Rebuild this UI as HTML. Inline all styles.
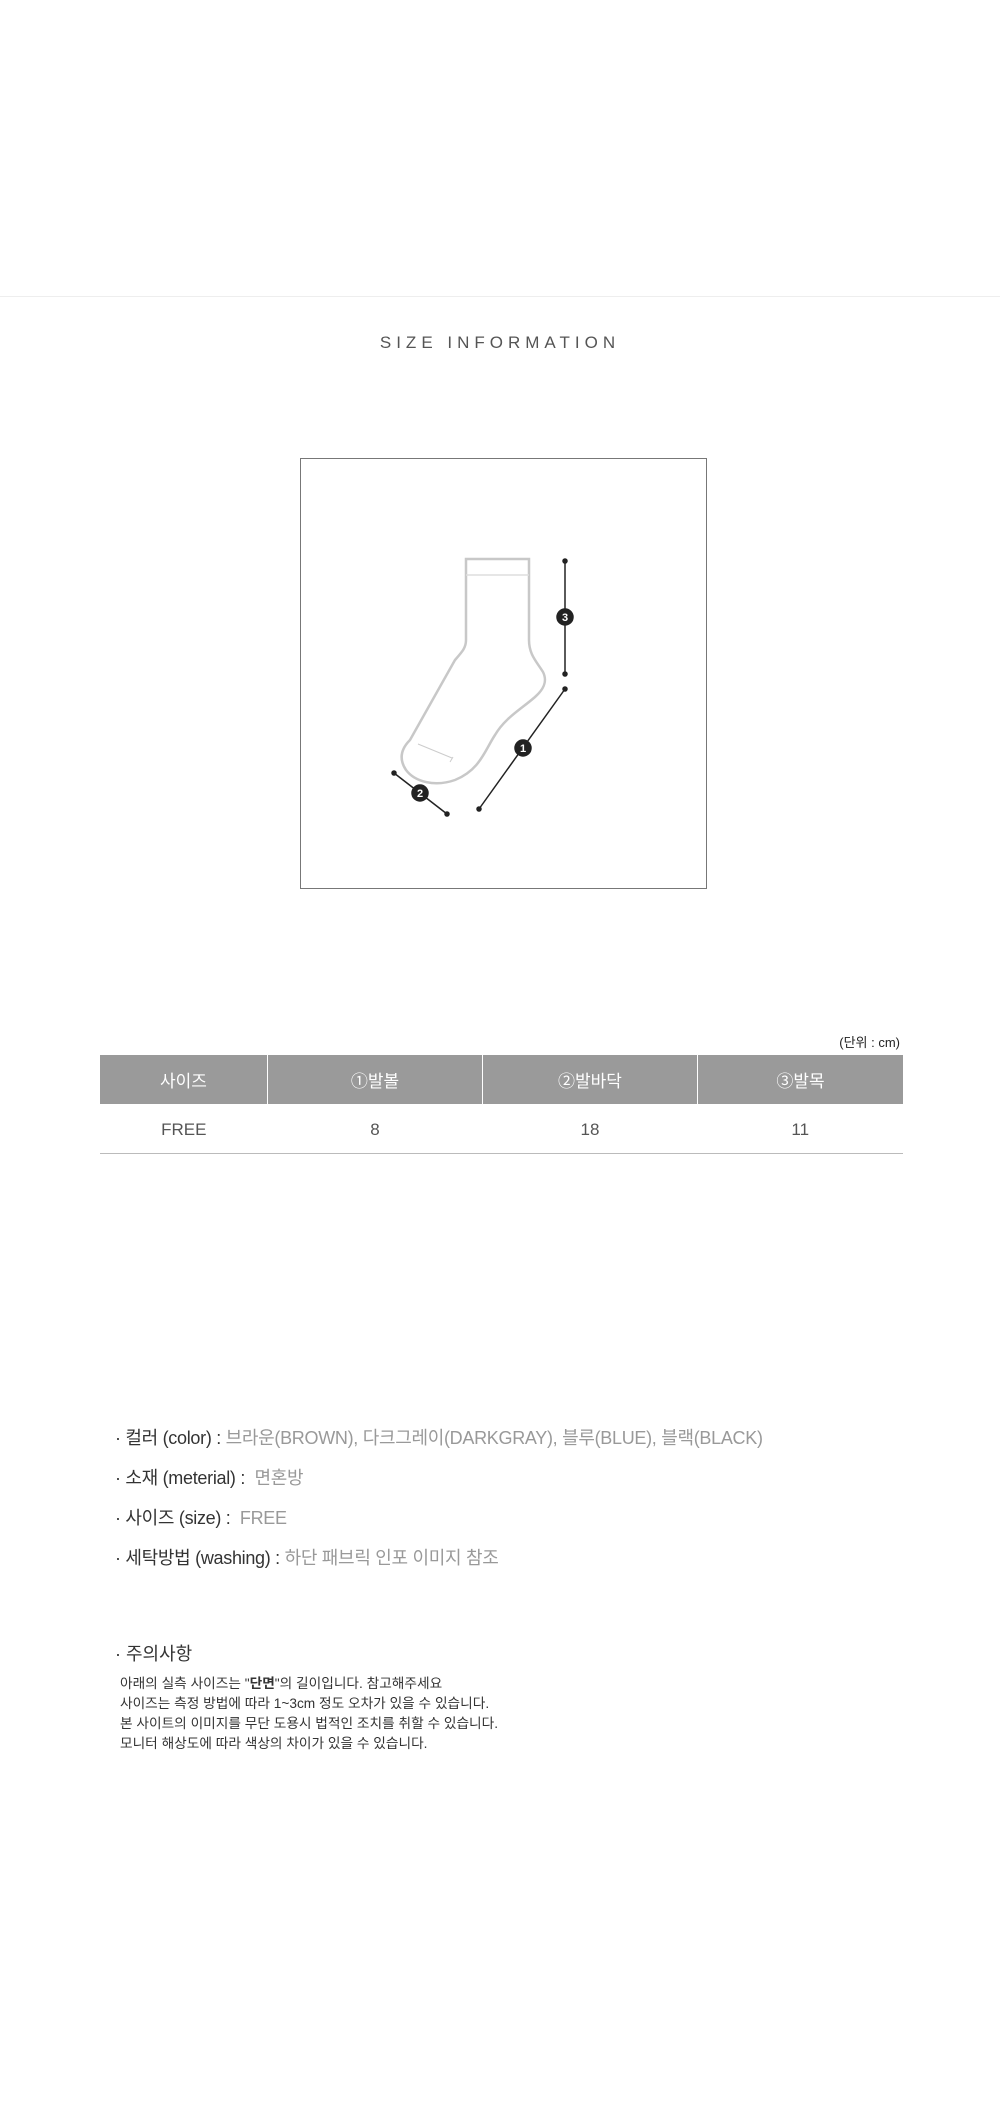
<!DOCTYPE html>
<html><head><meta charset="utf-8"><style>
body{margin:0;width:1000px;height:2105px;background:#fff;position:relative;font-family:"Liberation Sans","Noto Sans CJK KR",sans-serif;overflow:hidden}
.a{position:absolute;white-space:nowrap}
table{border-collapse:collapse}
</style></head><body>
<div class="a" style="left:0;top:296px;width:1000px;height:1px;background:#eee"></div>
<div class="a" style="left:0;top:333px;width:1000px;text-align:center;font-size:17px;letter-spacing:5px;color:#555">SIZE INFORMATION</div>
<svg class="a" style="left:0;top:0" width="1000" height="900">
<rect x="300.5" y="458.5" width="406" height="430" fill="none" stroke="#777" stroke-width="1"/>
<g fill="none" stroke="#c8c8c8" stroke-width="2.5">
<path d="M466 640 L466 559 L529 559 L529 640 C529 655 537 662 543 672 C548 682 543 690 535 697 C520 710 505 718 495 735 C485 750 480 770 455 780 C435 787 415 782 406 770 C398 758 402 748 410 740 L455 660 C462 652 466 648 466 640 Z"/>
</g>
<line x1="466" y1="575" x2="529" y2="575" stroke="#ddd" stroke-width="1.5"/>
<path d="M418 744 L452 758 M450 762 L453 757" stroke="#ccc" stroke-width="1" fill="none"/>
<g stroke="#222" stroke-width="1.5" fill="#222">
<line x1="565" y1="561" x2="565" y2="674"/><circle cx="565" cy="561" r="2"/><circle cx="565" cy="674" r="2"/>
<line x1="565" y1="689" x2="479" y2="809"/><circle cx="565" cy="689" r="2"/><circle cx="479" cy="809" r="2"/>
<line x1="394" y1="773" x2="447" y2="814"/><circle cx="394" cy="773" r="2"/><circle cx="447" cy="814" r="2"/>
<circle cx="565" cy="617" r="8"/><circle cx="523" cy="748" r="8"/><circle cx="420" cy="793" r="8"/>
</g>
<g fill="#fff" font-size="11" font-weight="bold" text-anchor="middle" font-family="Liberation Sans">
<text x="565" y="621">3</text><text x="523" y="752">1</text><text x="420" y="797">2</text>
</g>
</svg>
<div class="a" style="right:100px;top:1032px;font-size:13px;color:#222">(단위 : cm)</div>
<table class="a" style="left:100px;top:1055px;width:803px;font-size:17px;text-align:center">
<tr style="background:#9a9a9a;color:#fff;height:49px"><td style="width:165px;border-right:1px solid #fff">사이즈</td><td style="width:212px;border-right:1px solid #fff">①발볼</td><td style="width:212px;border-right:1px solid #fff">②발바닥</td><td>③발목</td></tr>
<tr style="color:#555;height:49px;border-bottom:1.5px solid #bbb"><td style="padding-top:4px">FREE</td><td style="padding-top:4px">8</td><td style="padding-top:4px">18</td><td style="padding-top:4px">11</td></tr>
</table>
<div class="a" style="left:115px;top:1427px;font-size:18px;color:#333;line-height:22px;letter-spacing:-0.3px">
<div style="height:40px">· 컬러 (color) : <span style="color:#999">브라운(BROWN), 다크그레이(DARKGRAY), 블루(BLUE), 블랙(BLACK)</span></div>
<div style="height:40px">· 소재 (meterial) : &nbsp;<span style="color:#999">면혼방</span></div>
<div style="height:40px">· 사이즈 (size) : &nbsp;<span style="color:#999">FREE</span></div>
<div style="height:40px">· 세탁방법 (washing) : <span style="color:#999">하단 패브릭 인포 이미지 참조</span></div>
</div>
<div class="a" style="left:115px;top:1640px;font-size:18px;color:#333">· 주의사항</div>
<div class="a" style="left:120px;top:1674px;font-size:13.7px;color:#333;line-height:20px">
아래의 실측 사이즈는 "<b>단면</b>"의 길이입니다. 참고해주세요<br>
사이즈는 측정 방법에 따라 1~3cm 정도 오차가 있을 수 있습니다.<br>
본 사이트의 이미지를 무단 도용시 법적인 조치를 취할 수 있습니다.<br>
모니터 해상도에 따라 색상의 차이가 있을 수 있습니다.
</div>
</body></html>
